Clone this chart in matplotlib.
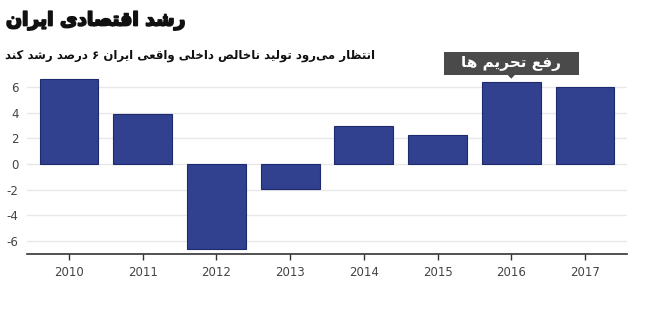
import matplotlib
matplotlib.use("Agg")
import matplotlib.pyplot as plt
import matplotlib.patheffects as pe
from matplotlib.patches import Rectangle, Polygon

years = ["2010", "2011", "2012", "2013", "2014", "2015", "2016", "2017"]
growth = [6.6, 3.9, -6.6, -1.9, 3.0, 2.3, 6.4, 6.0]
yticks = [-6, -4, -2, 0, 2, 4, 6]
title_text = "رشد اقتصادی ایران"
subtitle_text = "انتظار می‌رود تولید ناخالص داخلی واقعی ایران ۶ درصد رشد کند"
note_text = "رفع تحریم ها"
note_year = "2016"

# --- minimal Arabic/Persian shaping (presentation forms) + visual reordering ---
FORMS = {  # isolated, final, initial, medial
    'ا': ('\uFE8D', '\uFE8E', None, None),
    'د': ('\uFEA9', '\uFEAA', None, None),
    'ر': ('\uFEAD', '\uFEAE', None, None),
    'و': ('\uFEED', '\uFEEE', None, None),
    'ت': ('\uFE95', '\uFE96', '\uFE97', '\uFE98'),
    'ح': ('\uFEA1', '\uFEA2', '\uFEA3', '\uFEA4'),
    'خ': ('\uFEA5', '\uFEA6', '\uFEA7', '\uFEA8'),
    'ش': ('\uFEB5', '\uFEB6', '\uFEB7', '\uFEB8'),
    'ص': ('\uFEB9', '\uFEBA', '\uFEBB', '\uFEBC'),
    'ظ': ('\uFEC5', '\uFEC6', '\uFEC7', '\uFEC8'),
    'ع': ('\uFEC9', '\uFECA', '\uFECB', '\uFECC'),
    'ف': ('\uFED1', '\uFED2', '\uFED3', '\uFED4'),
    'ق': ('\uFED5', '\uFED6', '\uFED7', '\uFED8'),
    'ل': ('\uFEDD', '\uFEDE', '\uFEDF', '\uFEE0'),
    'م': ('\uFEE1', '\uFEE2', '\uFEE3', '\uFEE4'),
    'ن': ('\uFEE5', '\uFEE6', '\uFEE7', '\uFEE8'),
    'ه': ('\uFEE9', '\uFEEA', '\uFEEB', '\uFEEC'),
    'ی': ('\uFBFC', '\uFBFD', '\uFBFE', '\uFBFF'),
    'ک': ('\uFB8E', '\uFB8F', '\uFB90', '\uFB91'),
}


def shape(text):
    out = []
    n = len(text)
    for i, c in enumerate(text):
        if c not in FORMS:
            if c != '\u200c':
                out.append(c)
            continue
        prev = text[i - 1] if i > 0 else ''
        nxt = text[i + 1] if i + 1 < n else ''
        jp = prev in FORMS and FORMS[prev][2] is not None
        jn = FORMS[c][2] is not None and nxt in FORMS
        iso, fin, ini, med = FORMS[c]
        if jp and jn:
            out.append(med)
        elif jp:
            out.append(fin)
        elif jn:
            out.append(ini)
        else:
            out.append(iso)
    return ''.join(reversed(out))


FONT = ['DejaVu Sans Condensed', 'DejaVu Sans']

fig = plt.figure(figsize=(6.5, 3.35), dpi=100)
ax = fig.add_axes([27 / 650, 1 - 254 / 335, 600 / 650, (254 - 74.2) / 335])

x = list(range(len(years)))
ax.bar(x, growth, width=0.8, color='#31408f', edgecolor='#1e2a6e', linewidth=0.8, zorder=3)

ax.set_xlim(-0.57, 7.57)
ax.set_ylim(-7, 7)
ax.set_yticks(yticks)
ax.set_yticklabels([str(v) for v in yticks])
ax.set_xticks(x)
ax.set_xticklabels(years)
ax.grid(axis='y', color='#e8e8e8', linewidth=1, zorder=0)
for s in ['top', 'right', 'left']:
    ax.spines[s].set_visible(False)
ax.spines['bottom'].set_color('#333333')
ax.spines['bottom'].set_linewidth(1.2)
ax.tick_params(axis='y', length=0, labelsize=8.5, colors='#444444', pad=6)
ax.tick_params(axis='x', length=4, width=1, color='#333333', labelsize=8.5,
               labelcolor='#444444', pad=5)

fig.text(6 / 650, 1 - 21 / 335, shape(title_text), fontsize=13.5, fontweight='bold',
         family=FONT, ha='left', va='center', color='#111111',
         path_effects=[pe.withStroke(linewidth=1.3, foreground='#111111')])
fig.text(5 / 650, 1 - 55 / 335, shape(subtitle_text), fontsize=8.5, fontweight='bold',
         family=FONT, ha='left', va='center', color='#111111')

# annotation box pointing at the 2016 bar
xi = years.index(note_year)
box_half_w, box_bottom, box_top, tip = 0.915, 6.96, 8.69, 6.65
ax.add_patch(Rectangle((xi - box_half_w, box_bottom), 2 * box_half_w, box_top - box_bottom,
                       fc='#4a4a4a', ec='none', clip_on=False, zorder=5))
ax.add_patch(Polygon([(xi - 0.055, box_bottom + 0.02), (xi + 0.055, box_bottom + 0.02), (xi, tip)],
                     closed=True, fc='#4a4a4a', ec='none', clip_on=False, zorder=5))
ax.text(xi, (box_bottom + box_top) / 2, shape(note_text), ha='center', va='center',
        fontsize=11, fontweight='bold', family=FONT, color='white', zorder=6, clip_on=False)

fig.savefig('out.png', dpi=100, facecolor='white')
